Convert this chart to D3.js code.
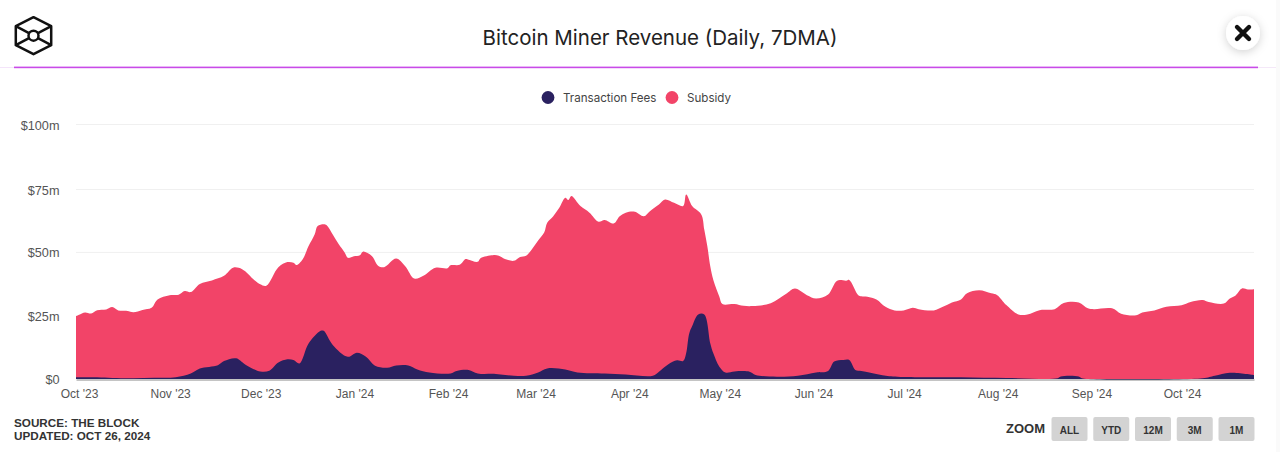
<!DOCTYPE html>
<html><head><meta charset="utf-8">
<script src="https://cdnjs.cloudflare.com/ajax/libs/d3/7.8.5/d3.min.js"></script>
<style>html,body{margin:0;padding:0;background:#fff;overflow:hidden}svg{display:block}</style>
</head><body><svg id="c" width="1280" height="452"></svg>
<script>
const startDate = "2023-10-01";
const endDate = "2024-10-25";
const title = "Bitcoin Miner Revenue (Daily, 7DMA)";
const legendLabels = ["Transaction Fees", "Subsidy"];
const yTicks = [0, 25, 50, 75, 100];
const xTickDates = ["2023-10-01","2023-11-01","2023-12-01","2024-01-01","2024-02-01","2024-03-01","2024-04-01","2024-05-01","2024-06-01","2024-07-01","2024-08-01","2024-09-01","2024-10-01"];
const zoomButtons = ["ALL","YTD","12M","3M","1M"];
// Top of the stack (fees + subsidy), $m, at day offsets from startDate
const totalDays = [0,1,3,5,7,10,12,14,17,19,22,25,27,31,34,36,38,41,45,49,52,55,59,61,63,67,70,72,73,75,77,79,80,82,83,85,87,89,90,92,94,95,98,100,102,106,109,112,115,119,123,124,127,129,
130,133,134,138,140,142,145,147,149,151,153,155,156,158,160,162,163,164,167,170,173,175,178,180,182,185,188,190,193,195,198,201,202,204,207,208,209,210,211,213,214,218,221,224,230,235,238,242,245,249,252,255,256,259,
260,262,265,268,271,274,277,279,284,287,290,293,295,299,303,305,308,312,315,319,324,327,332,335,337,343,346,351,353,357,361,366,369,373,375,380,382,384,386,388,390];
const totalValues = [24.9,25.5,26.4,26,27.3,27.6,28.5,27.2,27,26.5,27.4,28.2,31.5,33.2,33.4,34.8,34.4,37.6,39,40.8,44,43.4,39.2,37.5,36.9,44.2,46.2,45.9,45,47.2,52.5,57.1,60.5,61.2,60.8,57.1,53.2,49.9,47.9,48.5,48.9,50.3,48.5,44.8,44.2,47.6,44.6,39.7,40.8,44,43.8,44.9,45.1,47.4,
47.1,46.3,47.8,48.9,48.7,47.4,46.7,48.2,48.7,51.4,54.7,57.9,61.8,64.4,67.7,71.7,70.8,72.4,68.4,65.8,62.2,62.9,61.5,64.4,65.8,66.2,64.4,66.4,69,71,69.7,68.4,73,68.4,65.1,59.1,52.5,44.5,39.2,32.6,29.7,29.7,29,28.9,30,33.6,35.8,33.2,31.9,33.5,38.9,38.9,39.2,33.2,
32.8,32.6,31.5,28.6,27.2,27.2,28.2,27.7,27.2,28.6,30.3,31.5,33.9,35.1,33.9,33.2,29.3,25.6,25.6,27.3,27.7,30.1,30.3,28,27.7,28,25.9,25.3,26.4,27.2,28.6,29.2,30.5,31.3,30.5,29.9,31.9,33.2,35.8,35.4,35.5];
// Transaction fees, $m
const feeDays = [0,7,12,19,26,33,38,41,47,49,53,56,61,64,67,70,72,74,77,81,82,85,90,93,96,99,103,106,110,113,117,124,126,130,
133,139,145,149,153,156,162,166,175,182,191,193,196,199,201,202,203,204,206,208,210,211,213,215,218,223,225,232,239,245,249,251,254,256,258,
260,263,267,272,293,308,325,326,332,333,373,377,382,390];
const feeValues = [0.7,0.7,0.4,0.3,0.5,0.7,2.2,4.2,5.5,7.1,8.2,5.8,3,3.3,6.5,7.8,7.5,6.2,14.1,19.1,19.1,13.5,8.8,10.4,8.8,5.3,4.5,5.4,5.4,3.8,2.6,2.2,3.2,3.6,
2.2,2,1.3,1.3,2.6,4.2,3.8,2.6,2.2,1.8,1.3,2.9,5.8,7.4,7.1,10.2,18,21,25.6,25.6,14.1,10.2,4.9,2.6,3,2.9,1.6,0.9,1.3,2.6,3.2,6.9,7.5,7.5,3.6,
3.2,2.5,1.5,0.9,0.7,0.4,0.3,1,1,0.3,0.3,1.3,2.5,1.6];

const svg = d3.select("#c");
const parse = d3.utcParse("%Y-%m-%d");
const t0 = parse(startDate);
const x = d3.scaleUtc().domain([t0, parse(endDate)]).range([76, 1254]);
const y = d3.scaleLinear().domain(yTicks).range([379, 316, 252.4, 189.5, 124.5]);
const dayX = d => x(d3.utcDay.offset(t0, d));
const AX = "'Liberation Sans', Arial, sans-serif";
const UI = "Inter, 'Noto Sans', sans-serif";

// header
const defs = svg.append("defs");
svg.append("rect").attr("x",0).attr("y",67).attr("width",14).attr("height",1).attr("fill","#f4e4fa");
svg.append("rect").attr("x",14).attr("y",66.6).attr("width",1244).attr("height",1.6).attr("fill","#c94be8");
svg.append("rect").attr("x",1258).attr("y",67).attr("width",18).attr("height",1).attr("fill","#f4e8f8");
svg.append("rect").attr("x",1276).attr("y",0).attr("width",4).attr("height",452).attr("fill","#fafafa");
svg.append("text").attr("x",660).attr("y",45).attr("text-anchor","middle")
  .attr("font-family",UI).attr("font-size",20.5).attr("fill","#222").text(title);

// logo
const logo = svg.append("g").attr("fill","none").attr("stroke","#111").attr("stroke-width",2.5).attr("stroke-linejoin","round");
const cx = 33.5, cy = 35.7;
const hex = [[0,-18.5],[17.7,-9.5],[17.7,9.5],[0,18.5],[-17.7,9.5],[-17.7,-9.5]];
logo.append("path").attr("d", "M"+hex.map(p=>[cx+p[0],cy+p[1]].join(",")).join("L")+"Z");
logo.append("circle").attr("cx",cx).attr("cy",cy).attr("r",5);
[[-17.7,-9.5,-4.5,-2.5],[17.7,-9.5,4.5,-2.5],[17.7,9.5,4.5,2.5],[-17.7,9.5,-4.5,2.5]].forEach(l=>{
  logo.append("line").attr("x1",cx+l[0]).attr("y1",cy+l[1]).attr("x2",cx+l[2]).attr("y2",cy+l[3]);
});

// close button
const sh = defs.append("filter").attr("id","sh").attr("x","-50%").attr("y","-50%").attr("width","200%").attr("height","200%");
sh.append("feDropShadow").attr("dx",0).attr("dy",2).attr("stdDeviation",5).attr("flood-color","#000").attr("flood-opacity",0.18);
svg.append("circle").attr("cx",1243).attr("cy",33).attr("r",17).attr("fill","#fff").attr("filter","url(#sh)");
svg.append("path").attr("d","M1237,27L1249,39M1249,27L1237,39").attr("stroke","#111").attr("stroke-width",4.4).attr("stroke-linecap","round");

// legend
const legendX = [548, 672], legendTextX = [563, 687];
legendLabels.forEach((l,i)=>{
  svg.append("circle").attr("cx",legendX[i]).attr("cy",97.5).attr("r",6.4).attr("fill",["#2a2160","#f24468"][i]);
  svg.append("text").attr("x",legendTextX[i]).attr("y",102.3).attr("font-family",UI).attr("font-size",11.6).attr("fill","#444").text(l);
});

// grid + y labels
const fmtY = v => v === 0 ? "$0" : `$${v}m`;
svg.append("g").selectAll("line").data(yTicks.filter(v=>v>0)).join("line")
  .attr("x1",76).attr("x2",1254).attr("y1",y).attr("y2",y).attr("stroke","#f0f0f0").attr("stroke-width",1);
svg.append("g").selectAll("text").data(yTicks).join("text")
  .attr("x",59.5).attr("y",v=>y(v)+5).attr("text-anchor","end").attr("font-family",AX).attr("font-size",12.7).attr("fill","#555").text(fmtY);

// areas
const curve = d3.curveCatmullRom.alpha(0.5);
const totalArea = d3.area().curve(curve).x((d,i)=>dayX(totalDays[i])).y0(y(0)).y1(d=>y(d));
const feeArea = d3.area().curve(curve).x((d,i)=>dayX(feeDays[i])).y0(y(0)).y1(d=>y(d));
svg.append("path").datum(totalValues).attr("d",totalArea).attr("fill","#f24468");
svg.append("path").datum(feeValues).attr("d",feeArea).attr("fill","#2a2160");

// x axis
const xAxis = d3.axisBottom(x).tickValues(xTickDates.map(parse)).tickFormat(d3.utcFormat("%b '%y")).tickSize(0).tickPadding(10);
const gx = svg.append("g").attr("transform",`translate(0,${y(0)+0.5})`).call(xAxis);
gx.select(".domain").attr("stroke","#8a8a8a").attr("stroke-width",1);
gx.selectAll("text").attr("font-family",AX).attr("font-size",12).attr("fill","#555")
  .attr("dx",(d,i)=> i === 0 ? 3 : 0.5);

// footer
svg.append("text").attr("x",14).attr("y",427).attr("font-family",AX).attr("font-weight",700).attr("font-size",11.7).attr("fill","#333").text("SOURCE: THE BLOCK");
svg.append("text").attr("x",14).attr("y",440).attr("font-family",AX).attr("font-weight",700).attr("font-size",11.7).attr("fill","#333").text("UPDATED: OCT 26, 2024");
svg.append("text").attr("x",1006).attr("y",433).attr("font-family",AX).attr("font-weight",700).attr("font-size",13).attr("fill","#333").text("ZOOM");
const btnX = d3.scalePoint().domain(zoomButtons).range([1051.5,1218.5]);
const b = svg.append("g").selectAll("g").data(zoomButtons).join("g").attr("transform",d=>`translate(${btnX(d)},417)`);
b.append("rect").attr("width",36).attr("height",24).attr("rx",2).attr("fill","#d3d3d3");
b.append("text").attr("x",18).attr("y",17).attr("text-anchor","middle").attr("font-family",AX).attr("font-weight",700).attr("font-size",10).attr("fill","#333").text(d=>d);
</script></body></html>
